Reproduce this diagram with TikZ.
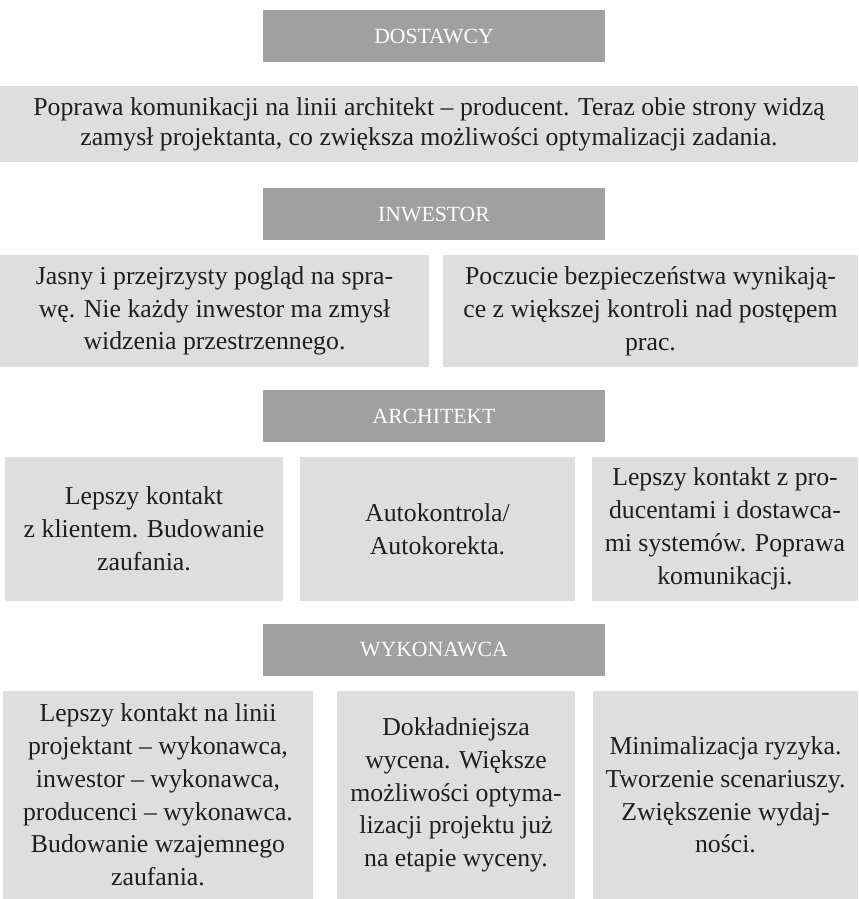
\documentclass[tikz,border=0pt]{standalone}
\usepackage{fontspec}
\setmainfont{Liberation Serif}
\usepackage{tikz}
\usepackage{xcolor}
\usetikzlibrary{positioning}
\definecolor{hGray}{RGB}{160,160,160}
\definecolor{cGray}{RGB}{222,222,222}
\definecolor{tDark}{RGB}{30,30,30}

\begin{document}
\begin{tikzpicture}[
  x=0.03cm, y=-0.03cm,
  header/.style={fill=hGray, text=white, inner sep=0pt, minimum width=0.03cm*342, minimum height=0.03cm*52, font=\fontsize{18.5}{22}\selectfont},
  cell/.style={fill=cGray, text=tDark, inner sep=0pt, align=center, font=\fontsize{22}{28}\selectfont},
  cellA/.style={cell, minimum height=0.03cm*76, font=\fontsize{22}{25.6}\selectfont},
  cellB/.style={cell, minimum height=0.03cm*112},
  cellC/.style={cell, minimum height=0.03cm*144},
  cellD/.style={cell, minimum height=0.03cm*208}
]
  \useasboundingbox (0,0) rectangle (858,899);
  \node[header] (dostawcy) at (434,36) {DOSTAWCY};
  \node[cellA, minimum width=0.03cm*858] (dost) at (429,124) {Poprawa komunikacji na linii architekt – producent. Teraz obie strony widzą\\zamysł projektanta, co zwiększa możliwości optymalizacji zadania.};

  \node[header] (inwestor) at (434,214) {INWESTOR};
  \node[cellB, minimum width=0.03cm*429] (inw1) at (214.5,311) {Jasny i przejrzysty pogląd na spra-\\wę. Nie każdy inwestor ma zmysł\\widzenia przestrzennego.};
  \node[cellB, minimum width=0.03cm*415] (inw2) at (650.5,311) {Poczucie bezpieczeństwa wynikają-\\ce z większej kontroli nad postępem\\prac.};

  \node[header] (architekt) at (434,416) {ARCHITEKT};
  \node[cellC, minimum width=0.03cm*278] (arch1) at (144,529) {Lepszy kontakt\\z klientem. Budowanie\\zaufania.};
  \node[cellC, minimum width=0.03cm*275] (arch2) at (437.5,529) {Autokontrola/\\Autokorekta.};
  \node[cellC, minimum width=0.03cm*266] (arch3) at (725,529) {Lepszy kontakt z pro-\\ducentami i dostawca-\\mi systemów. Poprawa\\komunikacji.};

  \node[header] (wykonawca) at (434,649.5) {WYKONAWCA};
  \node[cellD, minimum width=0.03cm*310] (wyk1) at (158,795) {Lepszy kontakt na linii\\projektant – wykonawca,\\inwestor – wykonawca,\\producenci – wykonawca.\\Budowanie wzajemnego\\zaufania.};
  \node[cellD, minimum width=0.03cm*238] (wyk2) at (456,795) {Dokładniejsza\\wycena. Większe\\możliwości optyma-\\lizacji projektu już\\na etapie wyceny.};
  \node[cellD, minimum width=0.03cm*265] (wyk3) at (725.5,795) {Minimalizacja ryzyka.\\Tworzenie scenariuszy.\\Zwiększenie wydaj-\\ności.};
\end{tikzpicture}
\end{document}
